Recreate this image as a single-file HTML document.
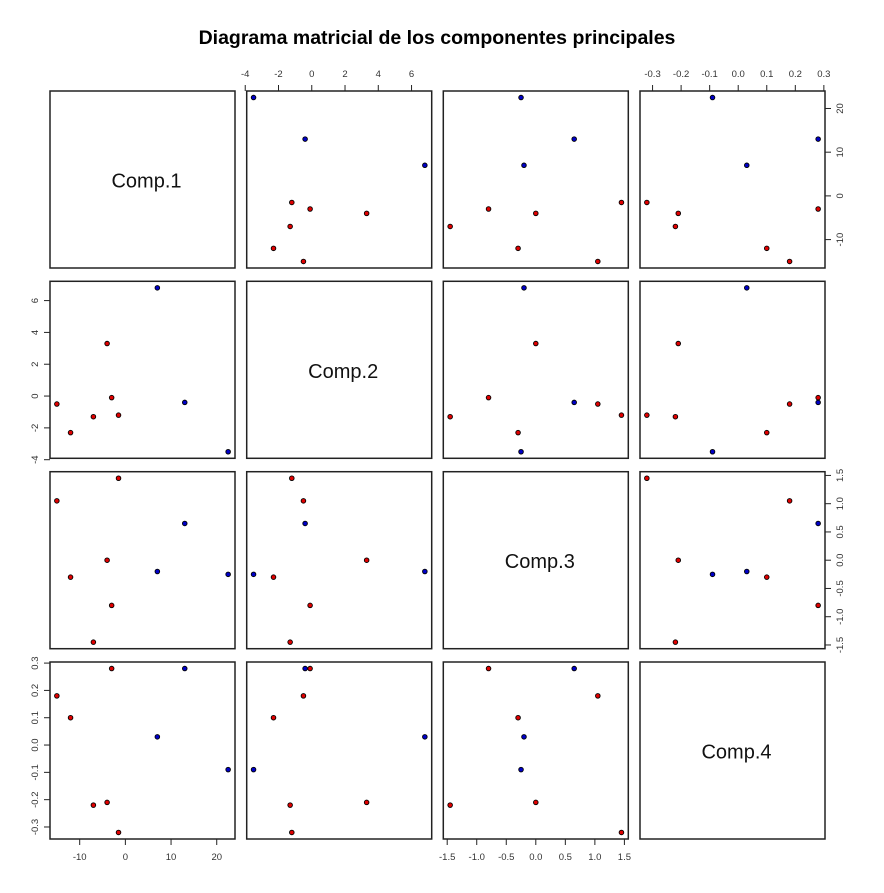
<!DOCTYPE html>
<html><head><meta charset="utf-8"><style>
body{margin:0;background:#fff;}
text{font-family:"Liberation Sans",Arial,sans-serif;}
</style></head><body>
<svg id="chart" width="884" height="888" xmlns="http://www.w3.org/2000/svg">
<text x="437" y="44" text-anchor="middle" font-size="19.5" font-weight="bold">Diagrama matricial de los componentes principales</text>
</svg>
<script>
const varNames = ["Comp.1","Comp.2","Comp.3","Comp.4"];
const comp1 = [-15,-12,-7,-4,-3,-1.5,7,13,22.5];
const comp2 = [-0.5,-2.3,-1.3,3.3,-0.1,-1.2,6.8,-0.4,-3.5];
const comp3 = [1.05,-0.3,-1.45,0,-0.8,1.45,-0.2,0.65,-0.25];
const comp4 = [0.18,0.10,-0.22,-0.21,0.28,-0.32,0.03,0.28,-0.09];
const group = ["r","r","r","r","r","r","b","b","b"];
const ticks1 = [-10,0,10,20];
const ticks2 = [-4,-2,0,2,4,6];
const ticks3 = [-1.5,-1.0,-0.5,0.0,0.5,1.0,1.5];
const ticks4 = [-0.3,-0.2,-0.1,0.0,0.1,0.2,0.3];

const data=[comp1,comp2,comp3,comp4];
const ticks=[ticks1,ticks2,ticks3,ticks4];
const NS="http://www.w3.org/2000/svg";
const svg=document.getElementById("chart");
const colX=[50,246.7,443.3,640], rowY=[91,281.3,471.7,662], PW=185, PH=177;
function ext(a){const mn=Math.min(...a),mx=Math.max(...a),d=(mx-mn)*0.04;return [mn-d,mx+d];}
const ranges=data.map(ext);
function sx(v,c){const[a,b]=ranges[c];return colX[c]+(v-a)/(b-a)*PW;}
function sy(v,r){const[a,b]=ranges[r];return rowY[r]+PH-(v-a)/(b-a)*PH;}
function mk(tag,at){const e=document.createElementNS(NS,tag);for(const k in at)e.setAttribute(k,at[k]);svg.appendChild(e);return e;}
function fmt(v,i){return i===2||i===3?v.toFixed(1):String(v);}
for(let r=0;r<4;r++)for(let c=0;c<4;c++){
  const fr=mk("rect",{x:colX[c],y:rowY[r],width:PW,height:PH,fill:"none",stroke:"#222","stroke-width":1.5});
  
  
  if(r===c){
    const t=mk("text",{x:colX[c]+PW/2+4,y:rowY[r]+PH/2+8,"text-anchor":"middle","font-size":20,fill:"#111"});
    t.textContent=varNames[r];
    
    
    continue;
  }
  for(let i=0;i<comp1.length;i++){
    const p=mk("circle",{cx:sx(data[c][i],c),cy:sy(data[r][i],r),r:2.3,fill:group[i]==="r"?"#e00000":"#0000c8",stroke:"#000","stroke-width":0.9});
    
    
  }
}
[[1,"top"],[3,"top"],[0,"bottom"],[2,"bottom"]].forEach(([c,side])=>{
  const y0=side==="top"?rowY[0]:rowY[3]+PH;const dir=side==="top"?-1:1;
  ticks[c].forEach(v=>{
    const x=sx(v,c);
    const l=mk("line",{x1:x,x2:x,y1:y0,y2:y0+dir*6,stroke:"#222"});
    
    
    const t=mk("text",{x:x,y:side==="top"?y0-14:y0+21,"text-anchor":"middle","font-size":9.5,fill:"#333"});
    t.textContent=fmt(v,c);
    
    
  });
});
[[1,"left"],[3,"left"],[0,"right"],[2,"right"]].forEach(([r,side])=>{
  const x0=side==="left"?colX[0]:colX[3]+PW;const dir=side==="left"?-1:1;
  ticks[r].forEach(v=>{
    const y=sy(v,r);
    const l=mk("line",{x1:x0,x2:x0+dir*6,y1:y,y2:y,stroke:"#222"});
    
    
    const tx=side==="left"?x0-12:x0+18;
    const t=mk("text",{x:tx,y:y,"text-anchor":"middle","font-size":9.5,fill:"#333",transform:`rotate(-90 ${tx} ${y})`});
    t.textContent=fmt(v,r);
    
    
  });
});
</script>
</body></html>
